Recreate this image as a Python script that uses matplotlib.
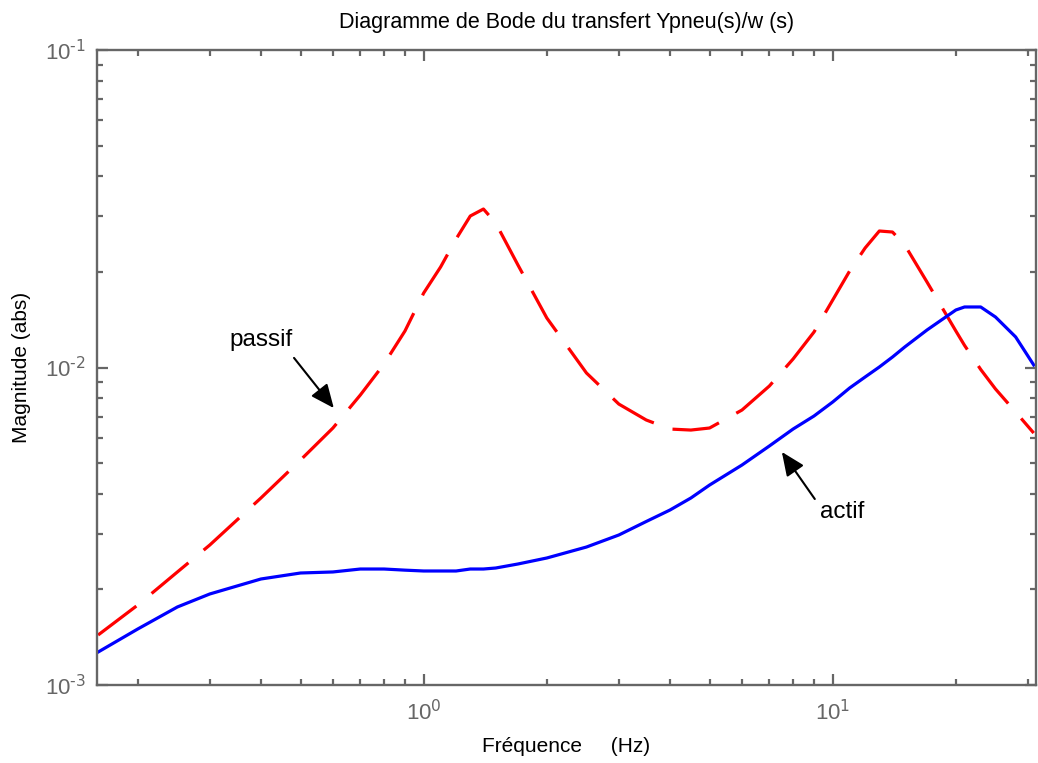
import matplotlib
matplotlib.use("Agg")
import matplotlib.pyplot as plt
import numpy as np
from matplotlib.ticker import LogLocator, NullFormatter, FuncFormatter

plt.rcParams['font.family'] = ['Liberation Sans', 'DejaVu Sans']
plt.rcParams['mathtext.default'] = 'regular'
plt.rcParams['axes.unicode_minus'] = False

# Frequency grid (Hz)
freq = [0.16, 0.2, 0.25, 0.3, 0.4, 0.5, 0.6, 0.7, 0.8, 0.9, 1.0, 1.1, 1.2,
        1.3, 1.4, 1.5, 1.7, 2.0, 2.5, 3.0, 3.5, 4.0, 4.5, 5.0, 6.0, 7.0,
        8.0, 9.0, 10.0, 11.0, 12.0, 13.0, 14.0, 15.0, 17.0, 20.0, 21.0,
        23.0, 25.0, 28.0, 31.0]

# Passive suspension magnitude |Ypneu/w|
passif = [1.437e-3, 1.786e-3, 2.270e-3, 2.760e-3, 3.881e-3, 5.113e-3,
          6.448e-3, 8.19e-3, 1.026e-2, 1.303e-2, 1.716e-2, 2.073e-2,
          2.539e-2, 3.00e-2, 3.156e-2, 2.851e-2, 2.103e-2, 1.432e-2,
          9.61e-3, 7.67e-3, 6.834e-3, 6.40e-3, 6.353e-3, 6.448e-3,
          7.346e-3, 8.744e-3, 1.0637e-2, 1.2935e-2, 1.6316e-2, 2.014e-2,
          2.379e-2, 2.691e-2, 2.671e-2, 2.431e-2, 1.859e-2, 1.303e-2,
          1.174e-2, 9.86e-3, 8.557e-3, 7.24e-3, 6.217e-3]

# Active suspension magnitude |Ypneu/w|
actif = [1.27e-3, 1.501e-3, 1.761e-3, 1.935e-3, 2.157e-3, 2.253e-3,
         2.270e-3, 2.319e-3, 2.319e-3, 2.300e-3, 2.286e-3, 2.286e-3,
         2.286e-3, 2.319e-3, 2.319e-3, 2.336e-3, 2.405e-3, 2.512e-3,
         2.720e-3, 2.968e-3, 3.273e-3, 3.557e-3, 3.881e-3, 4.264e-3,
         4.93e-3, 5.66e-3, 6.40e-3, 7.035e-3, 7.787e-3, 8.62e-3,
         9.335e-3, 1.0036e-2, 1.079e-2, 1.1605e-2, 1.3125e-2, 1.5175e-2,
         1.551e-2, 1.551e-2, 1.442e-2, 1.248e-2, 1.0183e-2]

grey = '#666666'


def decade_label(v, pos):
    e = int(round(np.log10(v)))
    return r'$10^{\text{%d}}$' % e


fig = plt.figure(figsize=(10.38, 7.63), dpi=100)
ax = fig.add_axes([97 / 1038, 78 / 763, 939 / 1038, 635 / 763])

ax.plot(freq, passif, color='#ff0000', lw=2.3, linestyle=(0, (15, 6.2)),
        dash_capstyle='butt', solid_joinstyle='round')
ax.plot(freq, actif, color='#0000ff', lw=2.3, solid_joinstyle='round')

ax.set_xscale('log')
ax.set_yscale('log')
ax.set_xlim(0.159, 31.4)
ax.set_ylim(1e-3, 1e-1)

ax.xaxis.set_major_locator(LogLocator(base=10, numticks=10))
ax.yaxis.set_major_locator(LogLocator(base=10, numticks=10))
ax.xaxis.set_minor_locator(LogLocator(base=10, subs=range(2, 10), numticks=20))
ax.yaxis.set_minor_locator(LogLocator(base=10, subs=range(2, 10), numticks=20))
ax.xaxis.set_major_formatter(FuncFormatter(decade_label))
ax.yaxis.set_major_formatter(FuncFormatter(decade_label))
ax.xaxis.set_minor_formatter(NullFormatter())
ax.yaxis.set_minor_formatter(NullFormatter())

ax.tick_params(which='both', direction='in', top=True, right=True,
               color=grey, width=1.6)
ax.tick_params(which='major', length=8, labelsize=16, labelcolor=grey)
ax.tick_params(axis='x', which='major', pad=11)
ax.tick_params(axis='y', which='major', pad=8)
ax.tick_params(which='minor', length=4)
for s in ax.spines.values():
    s.set_color(grey)
    s.set_linewidth(1.7)

ax.set_title('Diagramme de Bode du transfert Ypneu(s)/w (s)', fontsize=15.5,
             pad=16)
ax.set_xlabel('Fréquence     (Hz)', fontsize=15, labelpad=8)
ax.set_ylabel('Magnitude (abs)', fontsize=15, labelpad=10)

arrow = dict(arrowstyle='-|>,head_length=0.8,head_width=0.35',
             color='black', lw=1.5, mutation_scale=18,
             shrinkA=0, shrinkB=0)
ax.annotate('', xy=(0.603, 7.45e-3), xytext=(0.482, 1.072e-2),
            arrowprops=arrow)
ax.text(0.400, 1.221e-2, 'passif', fontsize=17.5, ha='center', va='center')
ax.annotate('', xy=(7.51, 5.42e-3), xytext=(9.04, 3.853e-3),
            arrowprops=arrow)
ax.text(10.52, 3.506e-3, 'actif', fontsize=17.5, ha='center', va='center')

fig.savefig('out.png', dpi=100)
